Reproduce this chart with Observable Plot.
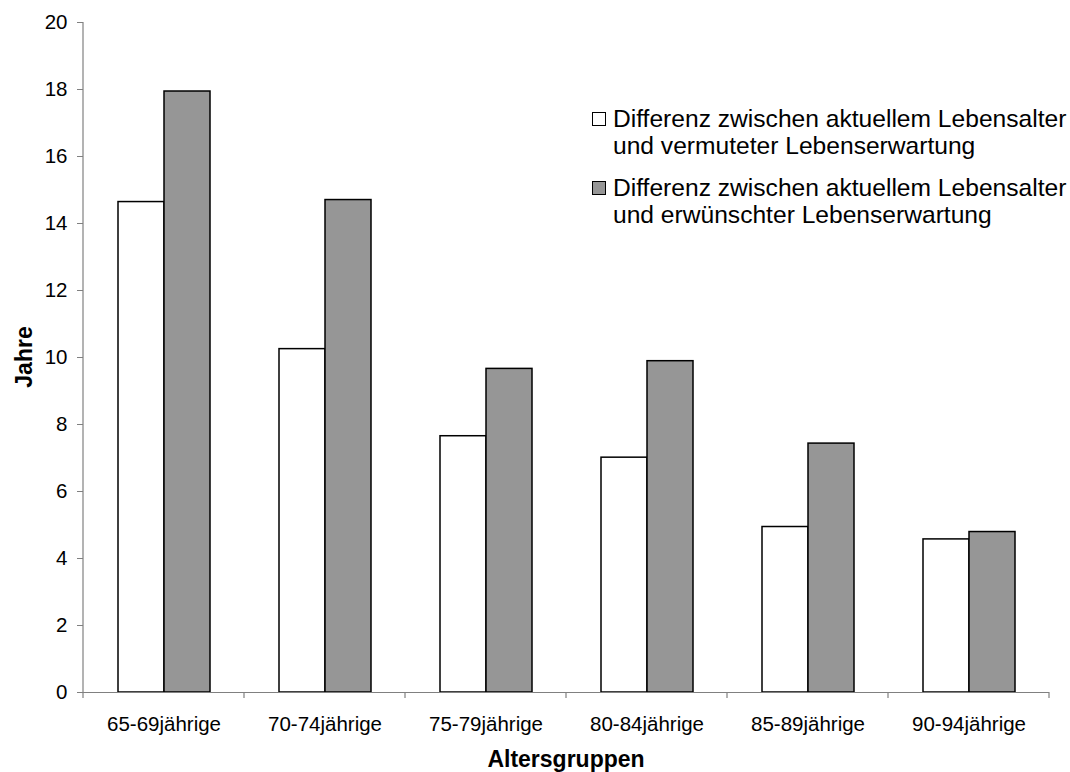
<!DOCTYPE html>
<html>
<head>
<meta charset="utf-8">
<script src="https://cdn.jsdelivr.net/npm/d3@7"></script>
<script src="https://cdn.jsdelivr.net/npm/@observablehq/plot@0.6"></script>
<style>
  body { margin: 0; background: #fff; }
  #chart { position: relative; width: 1070px; height: 772px; font-family: "Liberation Sans", Arial, sans-serif; }
  #chart svg { display: block; }
  .legend { position: absolute; left: 592px; top: 105px; font-size: 24.6px; line-height: 27px; color: #000; }
  .item { display: flex; align-items: flex-start; margin-bottom: 15px; white-space: nowrap; }
  .swatch { flex: none; width: 12px; height: 12px; border: 1.5px solid #000; margin-top: 7px; margin-right: 7px; }
</style>
</head>
<body>
<div id="chart"></div>
<script>
// Age groups on the horizontal axis
const groups = ["65-69jährige", "70-74jährige", "75-79jährige", "80-84jährige", "85-89jährige", "90-94jährige"];

// Years between current age and expected / desired life expectancy
const vermutet = [14.64, 10.25, 7.65, 7.01, 4.94, 4.57];
const erwuenscht = [17.94, 14.70, 9.66, 9.89, 7.43, 4.79];

const seriesKeys = ["vermutet", "erwünscht"];
const seriesFill = ["#ffffff", "#969696"];
const legendLines = [
  ["Differenz zwischen aktuellem Lebensalter", "und vermuteter Lebenserwartung"],
  ["Differenz zwischen aktuellem Lebensalter", "und erwünschter Lebenserwartung"]
];
const yTicks = [0, 2, 4, 6, 8, 10, 12, 14, 16, 18, 20];
const yTitle = "Jahre";
const xTitle = "Altersgruppen";

const rows = groups.flatMap((g, i) => [
  {group: g, series: seriesKeys[0], value: vermutet[i]},
  {group: g, series: seriesKeys[1], value: erwuenscht[i]}
]);

const plot = Plot.plot({
  width: 1070,
  height: 772,
  marginTop: 22,
  marginRight: 21,
  marginBottom: 80,
  marginLeft: 83,
  style: {fontFamily: "'Liberation Sans', Arial, sans-serif", fontSize: "20.5px", color: "#000", background: "#fff", overflow: "visible"},
  fx: {domain: groups, padding: 0, label: null, axis: null},
  x: {domain: seriesKeys, paddingInner: 0, paddingOuter: 0.75, axis: null},
  y: {domain: [0, 20], axis: null},
  color: {domain: seriesKeys, range: seriesFill},
  marks: [
    Plot.barY(rows, {fx: "group", x: "series", y: "value", fill: "series", stroke: "#000", strokeWidth: 1.5}),
    Plot.ruleY([0], {stroke: "#808080", strokeWidth: 1.2}),
    Plot.axisY({ticks: yTicks, tickSize: 6, tickPadding: 10, stroke: "#808080", label: null}),
    Plot.axisFx({anchor: "bottom", tickSize: 0, tickPadding: 24, label: null})
  ]
});

const chart = document.getElementById("chart");
chart.appendChild(plot);

// Vertical axis line and category boundary ticks, placed with the plot's scales
const fx = plot.scale("fx");
const y = plot.scale("y");
const svg = d3.select(plot);
const y0 = y.apply(0);
const boundaries = groups.map(g => fx.apply(g)).concat([fx.apply(groups[groups.length - 1]) + fx.bandwidth]);
const g = svg.append("g").attr("stroke", "#808080").attr("stroke-width", 1.2);
g.append("line")
  .attr("x1", boundaries[0]).attr("x2", boundaries[0])
  .attr("y1", y.apply(20)).attr("y2", y0);
g.selectAll("line.b").data(boundaries).join("line")
  .attr("class", "b")
  .attr("x1", d => d).attr("x2", d => d)
  .attr("y1", y0).attr("y2", y0 + 6);

// Axis titles
const titles = svg.append("g")
  .attr("font-family", "'Liberation Sans', Arial, sans-serif")
  .attr("font-weight", "bold")
  .attr("font-size", 23)
  .attr("fill", "#000")
  .attr("text-anchor", "middle");
titles.append("text")
  .attr("transform", `translate(32,${(y.apply(0) + y.apply(20)) / 2}) rotate(-90)`)
  .text(yTitle);
titles.append("text")
  .attr("x", (fx.range[0] + fx.range[1]) / 2)
  .attr("y", 767)
  .text(xTitle);

// Legend
const legend = d3.select(chart).append("div").attr("class", "legend");
legendLines.forEach((lines, i) => {
  const item = legend.append("div").attr("class", "item");
  item.append("div").attr("class", "swatch").style("background", seriesFill[i]);
  item.append("div").html(lines.join("<br>"));
});
</script>
</body>
</html>
